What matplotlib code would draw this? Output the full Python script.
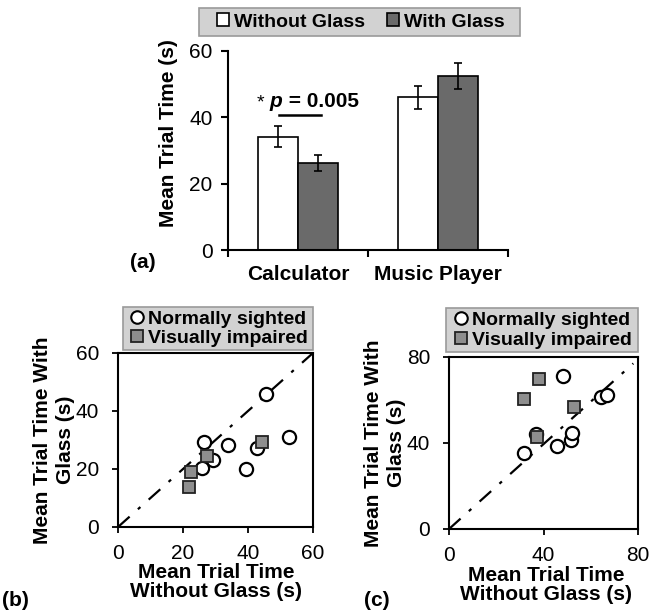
import matplotlib
matplotlib.use('Agg')
import matplotlib.pyplot as plt
from matplotlib.patches import Patch, Rectangle
from matplotlib.lines import Line2D
import numpy as np

plt.rcParams['font.family'] = ['Liberation Sans', 'DejaVu Sans']

# ---------------- data ----------------
categories = ['Calculator', 'Music Player']
without_glass = [34.2, 46.0]
with_glass = [26.1, 52.5]
without_err = [3.1, 3.5]
with_err = [2.4, 3.9]

normal_b_x = [26.5, 33.7, 29.3, 25.8, 39.4, 42.7, 45.4, 52.7]
normal_b_y = [29.4, 28.3, 23.1, 20.4, 20.0, 27.1, 45.8, 31.1]
impaired_b_x = [22.5, 21.8, 27.5, 44.3]
impaired_b_y = [19.1, 13.7, 24.5, 29.4]

normal_c_x = [48.4, 31.7, 36.8, 45.9, 51.5, 51.9, 64.3, 66.7]
normal_c_y = [71.2, 35.5, 44.2, 38.6, 41.4, 44.5, 61.5, 62.3]
impaired_c_x = [31.7, 38.0, 52.9, 37.4]
impaired_c_y = [60.5, 69.9, 56.6, 42.6]

b_ticks = [0, 20, 40, 60]
c_ticks = [0, 40, 80]
a_ticks = [0, 20, 40, 60]

DARK = '#6a6a6a'
SQ = '#8e8e8e'
LEG_BG = '#d2d2d2'
LEG_EDGE = '#9a9a9a'

W, H = 650, 611
fig = plt.figure(figsize=(6.5, 6.11), dpi=100)


def legend_box(x0, y0, x1, y1):
    fig.patches.append(Rectangle((x0 / W, 1 - y1 / H), (x1 - x0) / W, (y1 - y0) / H,
                                 transform=fig.transFigure, facecolor=LEG_BG,
                                 edgecolor=LEG_EDGE, linewidth=1.2, zorder=1))


# ---------------- panel (a) ----------------
axa = fig.add_axes([228 / W, 1 - 250 / H, 280 / W, 199 / H])
x = np.arange(len(categories))
w = 40 / 140
ekw = dict(ecolor='black', elinewidth=1.2, capsize=3, capthick=1.2)
axa.bar(x - w / 2, without_glass, w, color='white', edgecolor='black', linewidth=1.2,
        yerr=without_err, error_kw=ekw, label='Without Glass', zorder=2)
axa.bar(x + w / 2, with_glass, w, color=DARK, edgecolor='black', linewidth=1.2,
        yerr=with_err, error_kw=ekw, label='With Glass', zorder=2)
axa.set_xlim(-0.5, 1.5)
axa.set_ylim(0, 60)
axa.set_yticks(a_ticks)
axa.set_xticks(x)
axa.set_xticklabels(categories, fontsize=15, fontweight='bold')
axa.set_xticks([-0.5, 0.5, 1.5], minor=True)
axa.tick_params(axis='x', which='major', length=0, pad=11)
axa.tick_params(axis='x', which='minor', length=5, width=1.5, direction='out')
axa.tick_params(axis='y', length=5, width=1.5, direction='out', labelsize=15, pad=6)
for s in ['top', 'right']:
    axa.spines[s].set_visible(False)
for s in ['left', 'bottom']:
    axa.spines[s].set_linewidth(1.5)
axa.set_ylabel('Mean Trial Time (s)', fontsize=15, fontweight='bold')
axa.yaxis.set_label_coords(-0.179, 0.59)

# significance annotation
axa.plot([-0.136, 0.164], [40.7, 40.7], color='black', lw=1.8)
axa.text(-0.293, 43.1, '*', fontsize=14, ha='left', va='baseline')
axa.text(-0.205, 43.1, 'p', fontsize=15, fontweight='bold', fontstyle='italic', ha='left', va='baseline')
axa.text(-0.105, 43.1, ' = 0.005', fontsize=15, fontweight='bold', ha='left', va='baseline')

legend_box(199, 8, 520, 36)
handles_a = [Patch(facecolor='white', edgecolor='black', linewidth=1.2),
             Patch(facecolor=DARK, edgecolor='black', linewidth=1.2)]
fig.legend(handles_a, ['Without Glass', 'With Glass'], loc='center',
           bbox_to_anchor=(361 / W, 1 - 22 / H), ncol=2, frameon=False,
           prop=dict(size=14, weight='bold'), handlelength=0.6, handleheight=0.6,
           handletextpad=0.25, columnspacing=1.15, borderpad=0.1, borderaxespad=0)
fig.text(143 / W, 1 - 263 / H, '(a)', fontsize=15, fontweight='bold', ha='center', va='center')


def scatter_panel(rect, nx, ny, ix, iy, lim, ticks, line_end, ylab_x, xlab_x, xlab_y,
                  xpad, box, leg_center):
    ax = fig.add_axes(rect)
    ax.plot([0, line_end[0]], [0, line_end[1]], color='black', lw=1.6,
            linestyle=(0, (7, 5, 1.5, 5)), zorder=1)
    ax.plot(nx, ny, 'o', markersize=9.5, markerfacecolor='white', markeredgecolor='black',
            markeredgewidth=1.6, linestyle='none', zorder=3)
    ax.plot(ix, iy, 's', markersize=8.5, markerfacecolor=SQ, markeredgecolor='#222222',
            markeredgewidth=1.3, linestyle='none', zorder=4)
    ax.set_xlim(0, lim)
    ax.set_ylim(0, lim)
    ax.set_xticks(ticks)
    ax.set_yticks(ticks)
    ax.tick_params(axis='both', length=4.5, width=1.3, direction='out', labelsize=15)
    ax.tick_params(axis='y', pad=9)
    ax.tick_params(axis='x', pad=xpad)
    for s in ax.spines.values():
        s.set_linewidth(1.5)
    ax.set_ylabel('Mean Trial Time With\nGlass (s)', fontsize=15, fontweight='bold', linespacing=1.25)
    ax.yaxis.set_label_coords(ylab_x, 0.5)
    ax.set_xlabel('Mean Trial Time\nWithout Glass (s)', fontsize=15, fontweight='bold', linespacing=1.0)
    ax.xaxis.set_label_coords(xlab_x, xlab_y)
    legend_box(*box)
    hs = [Line2D([], [], marker='o', linestyle='none', markersize=9, markerfacecolor='white',
                 markeredgecolor='black', markeredgewidth=1.5),
          Line2D([], [], marker='s', linestyle='none', markersize=8.5, markerfacecolor=SQ,
                 markeredgecolor='#222222', markeredgewidth=1.3)]
    fig.legend(hs, ['Normally sighted', 'Visually impaired'], loc='center',
               bbox_to_anchor=leg_center, frameon=False,
               prop=dict(size=14, weight='bold'), handlelength=0.7, handletextpad=0.2,
               labelspacing=0.1, borderpad=0.1, borderaxespad=0)
    return ax


axb = scatter_panel([118 / W, 1 - 527 / H, 195 / W, 174 / H], normal_b_x, normal_b_y,
                    impaired_b_x, impaired_b_y, 60, b_ticks, (60, 60),
                    -0.22, 0.503, -0.207, 8.0, (123, 307, 313, 350), (219 / W, 1 - 328.5 / H))
axc = scatter_panel([449 / W, 1 - 529 / H, 189 / W, 172 / H], normal_c_x, normal_c_y,
                    impaired_c_x, impaired_c_y, 80, c_ticks, (78, 77),
                    -0.228, 0.513, -0.218, 8.0, (446, 308, 638, 352), (543 / W, 1 - 330 / H))

fig.text(15 / W, 1 - 600 / H, '(b)', fontsize=15, fontweight='bold', ha='center', va='center')
fig.text(377 / W, 1 - 600 / H, '(c)', fontsize=15, fontweight='bold', ha='center', va='center')

fig.savefig('out.png', dpi=100)
